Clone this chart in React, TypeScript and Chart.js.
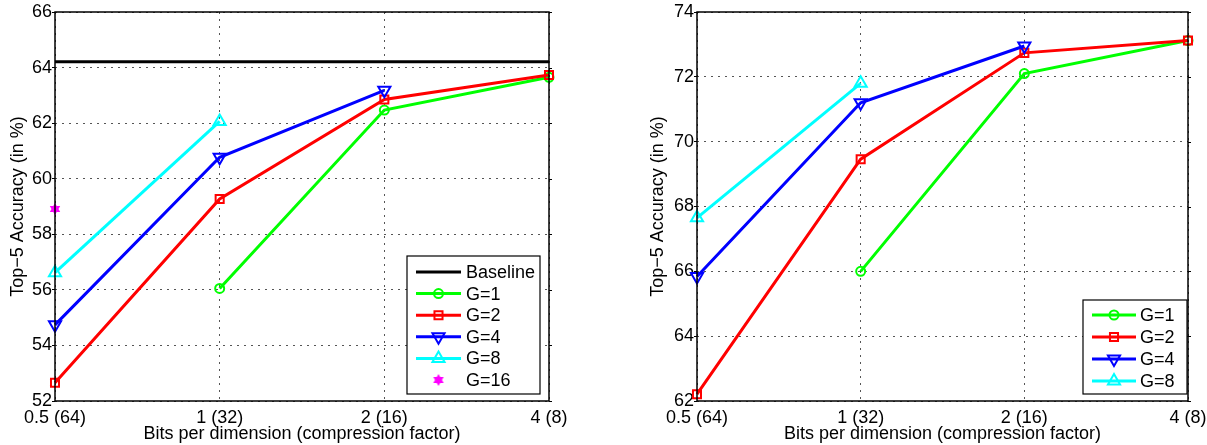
import React, { useEffect, useRef } from "react";
import { Chart, registerables } from "chart.js";

Chart.register(...registerables);

// ---------- data ----------
const xLabels = ["0.5 (64)", "1 (32)", "2 (16)", "4 (8)"];

const leftBaseline = [64.21, 64.21, 64.21, 64.21];
const leftG1 = [null, 56.05, 62.47, 63.65];
const leftG2 = [52.66, 59.27, 62.85, 63.73];
const leftG4 = [54.74, 60.77, 63.18, null];
const leftG8 = [56.62, 62.06, null, null];
const leftG16 = [58.91, null, null, null];

const rightG1 = [null, 66.0, 72.1, 73.12];
const rightG2 = [62.21, 69.46, 72.74, 73.12];
const rightG4 = [65.84, 71.2, 72.95, null];
const rightG8 = [67.65, 71.8, null, null];

const leftYRange = [52, 66];
const rightYRange = [62, 74];
const yStep = 2;

const xTitle = "Bits per dimension (compression factor)";
const yTitle = "Top\u22125 Accuracy (in %)";

// ---------- helpers ----------
const FONT = "'Liberation Sans', Arial, Helvetica, sans-serif";

function makeHexagram(color: string, r: number): HTMLCanvasElement {
  const size = Math.ceil(r * 2 + 2);
  const c = document.createElement("canvas");
  c.width = size;
  c.height = size;
  const g = c.getContext("2d")!;
  const cx = size / 2;
  const cy = size / 2;
  g.fillStyle = color;
  for (const rot of [-Math.PI / 2, Math.PI / 2]) {
    g.beginPath();
    for (let k = 0; k < 3; k++) {
      const a = rot + (k * 2 * Math.PI) / 3;
      const px = cx + r * Math.cos(a);
      const py = cy + r * Math.sin(a);
      if (k === 0) g.moveTo(px, py);
      else g.lineTo(px, py);
    }
    g.closePath();
    g.fill();
  }
  return c;
}

function drawMarker(ctx: CanvasRenderingContext2D, ds: any, x: number, y: number) {
  const style = ds.pointStyle;
  if (style instanceof HTMLCanvasElement) {
    ctx.drawImage(style, x - style.width / 2, y - style.height / 2);
    return;
  }
  const r = ds.pointRadius || 0;
  if (!r) return;
  ctx.save();
  ctx.setLineDash([]);
  ctx.strokeStyle = ds.pointBorderColor || ds.borderColor;
  ctx.lineWidth = ds.pointBorderWidth || 1;
  ctx.beginPath();
  if (style === "circle") {
    ctx.arc(x, y, r, 0, Math.PI * 2);
  } else if (style === "rect") {
    const s = r * Math.SQRT1_2;
    ctx.rect(x - s, y - s, 2 * s, 2 * s);
  } else if (style === "triangle") {
    let rad = ((ds.pointRotation || 0) * Math.PI) / 180;
    ctx.moveTo(x + Math.sin(rad) * r, y - Math.cos(rad) * r);
    rad += (2 * Math.PI) / 3;
    ctx.lineTo(x + Math.sin(rad) * r, y - Math.cos(rad) * r);
    rad += (2 * Math.PI) / 3;
    ctx.lineTo(x + Math.sin(rad) * r, y - Math.cos(rad) * r);
    ctx.closePath();
  }
  ctx.stroke();
  ctx.restore();
}

const framePlugin = {
  id: "frameLegend",
  afterDraw(chart: any, _args: any, opts: any) {
    const { ctx, chartArea: ca } = chart;
    const ys = chart.scales.y;
    ctx.save();
    ctx.setLineDash([]);
    // right-side tick marks
    ctx.strokeStyle = "#000";
    ctx.lineWidth = 1;
    ys.ticks.forEach((_t: any, i: number) => {
      const py = Math.round(ys.getPixelForTick(i)) + 0.5;
      ctx.beginPath();
      ctx.moveTo(ca.right, py);
      ctx.lineTo(ca.right + 3, py);
      ctx.stroke();
    });
    // frame
    ctx.lineWidth = 1.5;
    ctx.strokeRect(ca.left, ca.top, ca.right - ca.left, ca.bottom - ca.top);

    // legend
    const L = opts.legend;
    if (L) {
      const bx = ca.right - L.rightInset - L.width;
      const by = ca.bottom - L.bottomInset - L.height;
      ctx.fillStyle = "#fff";
      ctx.fillRect(bx, by, L.width, L.height);
      ctx.strokeStyle = "#000";
      ctx.lineWidth = 1.2;
      ctx.strokeRect(bx, by, L.width, L.height);
      ctx.font = `18px ${FONT}`;
      ctx.textBaseline = "middle";
      ctx.textAlign = "left";
      chart.data.datasets.forEach((ds: any, i: number) => {
        const ry = by + L.firstRow + i * L.rowGap;
        const x0 = bx + L.lineX0;
        const x1 = x0 + L.lineLen;
        if (ds.showLine !== false) {
          ctx.strokeStyle = ds.borderColor;
          ctx.lineWidth = ds.borderWidth;
          ctx.beginPath();
          ctx.moveTo(x0, ry);
          ctx.lineTo(x1, ry);
          ctx.stroke();
        }
        drawMarker(ctx, ds, (x0 + x1) / 2, ry);
        ctx.fillStyle = "#000";
        ctx.fillText(ds.label, bx + L.textX, ry + 1);
      });
    }
    ctx.restore();
  },
};

function series(label: string, data: (number | null)[], color: string, style: any, radius: number, rotation = 0) {
  return {
    label,
    data,
    borderColor: color,
    backgroundColor: color,
    borderWidth: 3,
    pointStyle: style,
    pointRadius: radius,
    pointRotation: rotation,
    pointBorderColor: color,
    pointBackgroundColor: "rgba(0,0,0,0)",
    pointBorderWidth: 2,
    pointHoverRadius: radius,
    tension: 0,
  };
}

function makeConfig(datasets: any[], yr: number[], yWidth: number, padRight: number, legend: any) {
  const n = datasets.length;
  datasets.forEach((d, i) => (d.order = n - i));
  return {
    type: "line" as const,
    data: { labels: xLabels, datasets },
    plugins: [framePlugin],
    options: {
      responsive: false,
      animation: false as const,
      layout: { padding: { top: 12, right: padRight, bottom: 0, left: 0 } },
      plugins: {
        legend: { display: false },
        tooltip: { enabled: false },
        frameLegend: { legend },
      },
      scales: {
        x: {
          type: "category" as const,
          offset: false,
          afterFit: (s: any) => {
            s.height = 44;
          },
          grid: {
            color: "#555",
            lineWidth: 1,
            drawTicks: true,
            tickLength: 6,
            tickColor: "rgba(0,0,0,0)",
          },
          border: { display: false, dash: [2, 5] },
          ticks: {
            color: "#000",
            padding: 0,
            maxRotation: 0,
            autoSkip: false,
            font: { family: FONT, size: 18 },
          },
          title: {
            display: true,
            text: xTitle,
            color: "#000",
            padding: { top: 0, bottom: 0 },
            font: { family: FONT, size: 18 },
          },
        },
        y: {
          min: yr[0],
          max: yr[1],
          afterFit: (s: any) => {
            s.width = yWidth;
          },
          grid: {
            color: "#555",
            lineWidth: 1,
            drawTicks: true,
            tickLength: 3,
            tickColor: "#000",
            tickWidth: 1,
            tickBorderDash: [],
          },
          border: { display: false, dash: [2, 5] },
          ticks: {
            stepSize: yStep,
            color: "#000",
            padding: 0,
            font: { family: FONT, size: 18 },
          },
          title: {
            display: true,
            text: yTitle,
            color: "#000",
            padding: { top: 7, bottom: 0 },
            font: { family: FONT, size: 18 },
          },
        },
      },
    },
  };
}

export default function App() {
  const leftRef = useRef<HTMLCanvasElement>(null);
  const rightRef = useRef<HTMLCanvasElement>(null);

  useEffect(() => {
    const hex = makeHexagram("#FF00FF", 6);
    const leftSets = [
      { ...series("Baseline", leftBaseline, "#000000", "circle", 0), pointRadius: 0, pointHoverRadius: 0 },
      series("G=1", leftG1, "#00FF00", "circle", 4.5),
      series("G=2", leftG2, "#FF0000", "rect", 5.7),
      series("G=4", leftG4, "#0000FF", "triangle", 7, 180),
      series("G=8", leftG8, "#00FFFF", "triangle", 7),
      { ...series("G=16", leftG16, "#FF00FF", hex, 6), showLine: false },
    ];
    const rightSets = [
      series("G=1", rightG1, "#00FF00", "circle", 4.5),
      series("G=2", rightG2, "#FF0000", "rect", 5.7),
      series("G=4", rightG4, "#0000FF", "triangle", 7, 180),
      series("G=8", rightG8, "#00FFFF", "triangle", 7),
    ];
    const left = new Chart(
      leftRef.current!,
      makeConfig(leftSets, leftYRange, 55, 51, {
        width: 133,
        height: 138,
        rightInset: 9,
        bottomInset: 7,
        firstRow: 16,
        rowGap: 21.6,
        lineX0: 9,
        lineLen: 45,
        textX: 59,
      }) as any
    );
    const right = new Chart(
      rightRef.current!,
      makeConfig(rightSets, rightYRange, 57, 19, {
        width: 104,
        height: 94,
        rightInset: 1,
        bottomInset: 7,
        firstRow: 15,
        rowGap: 22,
        lineX0: 9,
        lineLen: 44,
        textX: 57,
      }) as any
    );
    return () => {
      left.destroy();
      right.destroy();
    };
  }, []);

  return (
    <div style={{ position: "fixed", left: 0, top: 0, width: 1207, height: 445, background: "#fff" }}>
      <canvas ref={leftRef} width={600} height={445} style={{ position: "absolute", left: 0, top: 0, width: 600, height: 445 }} />
      <canvas ref={rightRef} width={567} height={445} style={{ position: "absolute", left: 640, top: 0, width: 567, height: 445 }} />
    </div>
  );
}
